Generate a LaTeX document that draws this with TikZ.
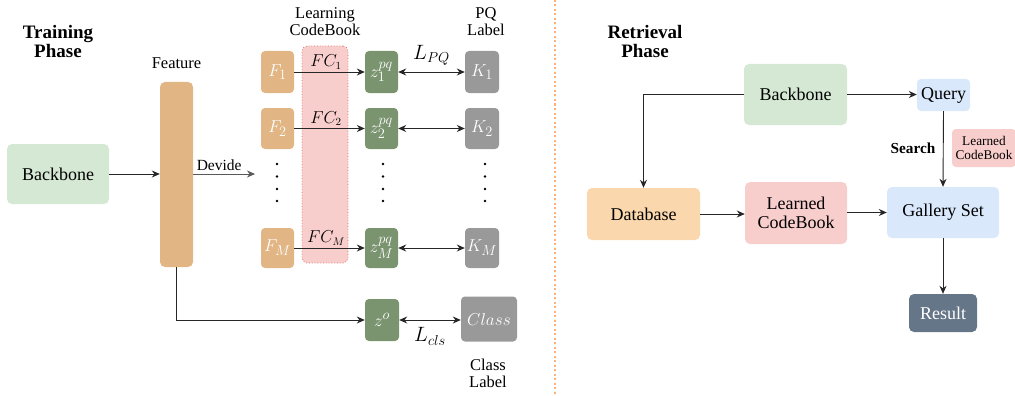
\documentclass[tikz,border=0pt]{standalone}
\usepackage{fontspec}
\setmainfont{Liberation Serif}
\usetikzlibrary{arrows.meta}

\definecolor{bbgreen}{HTML}{D5E8D4}
\definecolor{feattan}{HTML}{E1B584}
\definecolor{zgreen}{HTML}{7A9470}
\definecolor{kgray}{HTML}{999999}
\definecolor{cbpink}{HTML}{F8CECC}
\definecolor{cbborder}{HTML}{E07070}
\definecolor{qblue}{HTML}{DAE8FC}
\definecolor{dborange}{HTML}{FAD7AC}
\definecolor{resslate}{HTML}{647687}
\definecolor{divorange}{HTML}{FFB07A}

\tikzset{
  box/.style={rectangle, rounded corners=5pt, inner sep=0pt, align=center,
              font=\fontsize{18}{20}\selectfont},
  smallbox/.style={rectangle, rounded corners=4pt, inner sep=0pt, align=center,
              text=white, font=\fontsize{19}{21}\selectfont},
  arr/.style={-{Stealth[length=8pt,width=7pt]}, line width=0.9pt, draw=black!85},
  darr/.style={{Stealth[length=8pt,width=7pt]}-{Stealth[length=8pt,width=7pt]},
              line width=0.9pt, draw=black!85},
  lbl/.style={font=\fontsize{16.5}{19}\selectfont, align=center},
  title/.style={font=\bfseries\fontsize{19}{22}\selectfont, align=center},
  vdot/.style={circle, fill=black, inner sep=0pt, minimum size=2.6pt},
  mlbl/.style={font=\fontsize{20}{22}\selectfont},
  fclbl/.style={font=\fontsize{16}{18}\selectfont},
}

\begin{document}
\begin{tikzpicture}[x=1pt, y=-1pt]
\useasboundingbox (0,0) rectangle (1015,396);

% ---------------- training phase ----------------
\node[title] (ttitle) at (58,42) {Training\\[-3pt]Phase};

\node[box, fill=bbgreen, minimum width=102pt, minimum height=60pt] (bbL) at (58,174) {Backbone};
\node[box, fill=feattan, minimum width=33pt, minimum height=185pt] (feat) at (176.5,174.5) {};
\node[lbl] (featlbl) at (176.5,63) {Feature};

% learning codebook column
\node[rectangle, rounded corners=5pt, fill=cbpink, draw=cbborder, dotted, line width=0.8pt,
      minimum width=46pt, minimum height=217pt] (cb) at (325,154.5) {};
\node[lbl] (cblbl) at (325,22) {Learning\\[-2pt]CodeBook};
\node[lbl] (pqlbl) at (486,22) {PQ\\[-2pt]Label};

% feature chunks
\node[smallbox, fill=feattan, minimum width=33pt, minimum height=42pt] (F1) at (277.5,72) {$F_1$};
\node[smallbox, fill=feattan, minimum width=33pt, minimum height=41pt] (F2) at (277.5,128.5) {$F_2$};
\node[smallbox, fill=feattan, minimum width=33pt, minimum height=40pt] (FM) at (277.5,248) {$F_M$};

% sub-codes
\node[smallbox, fill=zgreen, minimum width=33pt, minimum height=42pt] (z1) at (381.5,72) {$z_1^{pq}$};
\node[smallbox, fill=zgreen, minimum width=33pt, minimum height=41pt] (z2) at (381.5,128.5) {$z_2^{pq}$};
\node[smallbox, fill=zgreen, minimum width=33pt, minimum height=40pt] (zM) at (381.5,248) {$z_M^{pq}$};

% PQ labels
\node[smallbox, fill=kgray, minimum width=34pt, minimum height=42pt] (K1) at (482,72) {$K_1$};
\node[smallbox, fill=kgray, minimum width=34pt, minimum height=41pt] (K2) at (482,128.5) {$K_2$};
\node[smallbox, fill=kgray, minimum width=34pt, minimum height=40pt] (KM) at (482,248) {$K_M$};

% class branch
\node[smallbox, fill=zgreen, minimum width=34pt, minimum height=42pt] (zo) at (382,320) {$z^o$};
\node[smallbox, fill=kgray, minimum width=56pt, minimum height=45pt] (cls) at (489,319) {$Class$};
\node[lbl] (clslbl) at (488,373) {Class\\[-2pt]Label};

% vertical ellipses
\foreach \x/\n in {277/f, 383/z, 485/k}{
  \foreach \y [count=\i] in {164,176.5,189,201}{
    \node[vdot] (dot\n\i) at (\x,\y) {};
  }
}

% connectors
\draw[arr] (bbL.east) -- (bbL.east -| feat.west);
\coordinate (devend) at (255,174);
\draw[arr, draw=black!65] (feat.east |- devend) -- node[above, font=\fontsize{15.5}{18}\selectfont, pos=0.42] {Devide} (devend);

\draw[arr] (F1.east) -- node[above=-1pt, fclbl, pos=0.45] {$FC_1$} (z1.west);
\draw[arr] (F2.east) -- node[above=-1pt, fclbl, pos=0.45] {$FC_2$} (z2.west);
\draw[arr] (FM.east) -- node[above=-1pt, fclbl, pos=0.45] {$FC_M$} (zM.west);

\draw[darr] (z1.east) -- node[above=3pt, mlbl] {$L_{PQ}$} (K1.west);
\draw[darr] (z2.east) -- (K2.west);
\draw[darr] (zM.east) -- (KM.west);

\draw[arr] (feat.south) |- (zo.west);
\draw[darr] (zo.east) -- node[below=4pt, mlbl] {$L_{cls}$} (zo.east -| cls.west);

% divider
\draw[divorange, line width=2pt, dash pattern=on 2pt off 2.5pt] (554.5,0) -- (554.5,396);

% ---------------- retrieval phase ----------------
\node[title] (rtitle) at (645,42) {Retrieval\\[-3pt]Phase};

\node[box, fill=bbgreen, minimum width=103pt, minimum height=61pt] (bbR) at (795.5,94.5) {Backbone};
\node[box, fill=qblue, rounded corners=4pt, minimum width=53pt, minimum height=32pt] (query) at (943.5,95) {Query};
\node[box, fill=dborange, minimum width=113pt, minimum height=52pt] (db) at (643.5,214) {Database};
\node[box, fill=cbpink, minimum width=102pt, minimum height=62pt] (lcb) at (796,213) {Learned\\[-1pt]CodeBook};
\node[box, fill=qblue, minimum width=112pt, minimum height=51pt] (gal) at (943,212.5) {Gallery Set};
\node[box, fill=resslate, text=white, minimum width=68pt, minimum height=38pt] (res) at (943,313) {Result};
\node[box, fill=cbpink, rounded corners=4pt, minimum width=64pt, minimum height=38pt,
      font=\fontsize{13.3}{15}\selectfont] (lcbs) at (984,148) {Learned\\[-1pt]CodeBook};
\node[font=\bfseries\fontsize{15.3}{18}\selectfont] (search) at (913,148) {Search};

\draw[arr] (bbR.east) -- (bbR.east -| query.west);
\draw[arr] (bbR.west) -| (db.north);
\draw[arr] (db.east) -- (db.east -| lcb.west);
\draw[arr] (lcb.east |- gal.west) -- (gal.west);
\draw[arr] (query.south) -- (gal.north);
\draw[arr] (gal.south) -- (res.north);

\end{tikzpicture}
\end{document}
